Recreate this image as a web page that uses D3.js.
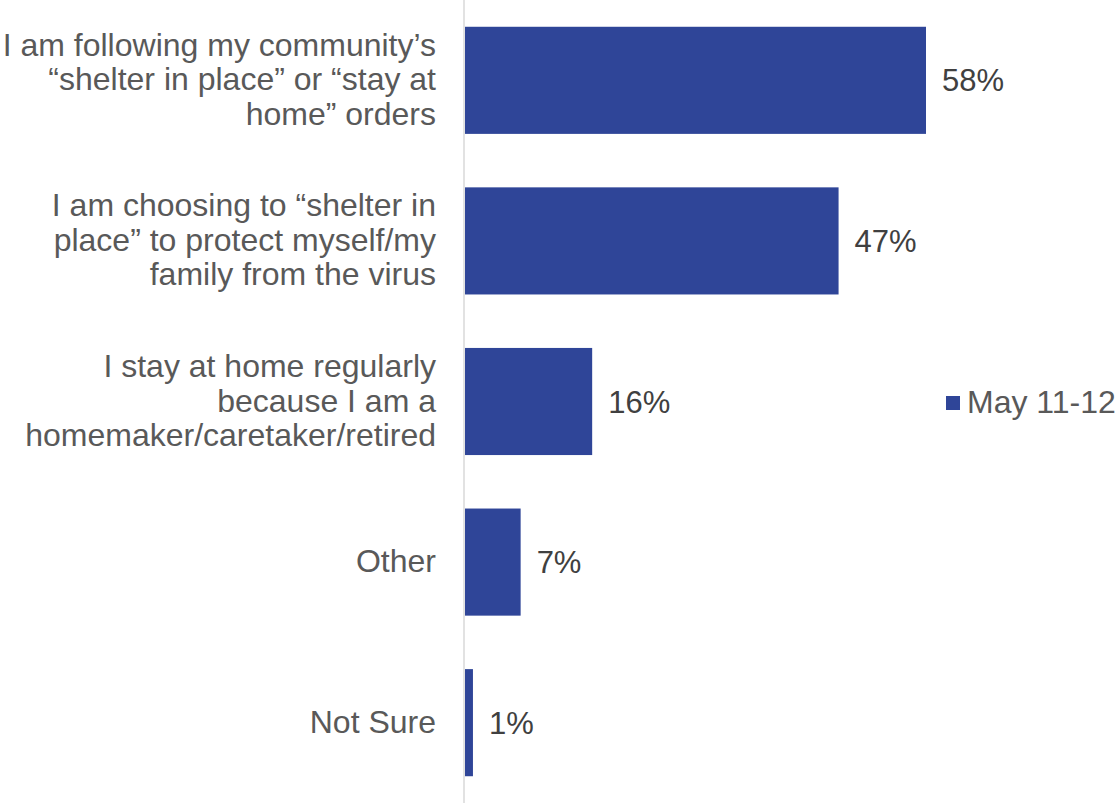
<!DOCTYPE html>
<html><head><meta charset="utf-8">
<script src="https://cdn.jsdelivr.net/npm/d3@7/dist/d3.min.js"></script>
<style>html,body{margin:0;padding:0;background:#fff;}svg{display:block;}</style>
</head><body>
<svg id="chart" width="1119" height="804"></svg>
<script>
const categories = [
  ["I am following my community\u2019s", "\u201Cshelter in place\u201D or \u201Cstay at", "home\u201D orders"],
  ["I am choosing to \u201Cshelter in", "place\u201D to protect myself/my", "family from the virus"],
  ["I stay at home regularly", "because I am a", "homemaker/caretaker/retired"],
  ["Other"],
  ["Not Sure"]
];
const values = [58, 47, 16, 7, 1];
const seriesName = "May 11-12";

const svg = d3.select("#chart");
const x0 = 465;
const x = d3.scaleLinear().domain([0, 58]).range([x0, 926]);
const y = d3.scaleBand().domain(d3.range(categories.length)).range([0, 803]).paddingInner(0.333).paddingOuter(0.1667);
const color = "#2F4598";
const font = "'Liberation Sans', Arial, sans-serif";

// axis line
svg.append("line").attr("x1", 464).attr("x2", 464).attr("y1", 0).attr("y2", 803)
  .attr("stroke", "#d9d9d9").attr("stroke-width", 1.5);

svg.selectAll("rect.bar").data(values).join("rect").attr("class", "bar")
  .attr("x", x0).attr("y", (d, i) => y(i)).attr("width", d => x(d) - x0)
  .attr("height", y.bandwidth()).attr("fill", color);

svg.selectAll("text.val").data(values).join("text").attr("class", "val")
  .attr("x", d => x(d) + 16).attr("y", (d, i) => y(i) + y.bandwidth() / 2 + 11)
  .attr("font-family", font).attr("font-size", 31).attr("fill", "#404040")
  .text(d => d + "%");

const lh = 34.5;
categories.forEach((lines, i) => {
  const cy = y(i) + y.bandwidth() / 2;
  const t = svg.append("text").attr("text-anchor", "end")
    .attr("font-family", font).attr("font-size", 32).attr("fill", "#595959");
  lines.forEach((ln, j) => {
    t.append("tspan").attr("x", 436)
      .attr("y", cy + 10 + (j - (lines.length - 1) / 2) * lh).text(ln);
  });
});

// legend
svg.append("rect").attr("x", 946).attr("y", 396).attr("width", 14).attr("height", 14).attr("fill", color);
svg.append("text").attr("x", 967).attr("y", 413).attr("font-family", font)
  .attr("font-size", 32).attr("fill", "#595959").text(seriesName);
</script>
</body></html>
